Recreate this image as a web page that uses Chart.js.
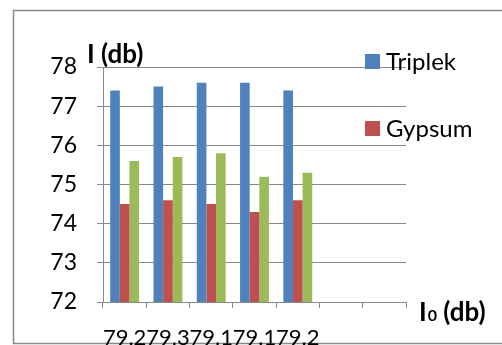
<!DOCTYPE html>
<html>
<head>
<meta charset="utf-8">
<script src="https://cdn.jsdelivr.net/npm/chart.js@4/dist/chart.umd.min.js"></script>
<style>
  html, body { margin: 0; padding: 0; background: #fff; overflow: hidden; }
  #wrap { width: 502px; height: 345px; overflow: hidden; position: relative; }
  canvas { display: block; }
</style>
</head>
<body>
<div id="wrap"><canvas id="c" width="502" height="360"></canvas></div>
<script>
// Sound level I (db) for each I0 (db) reading
const categories = ['79.2', '79.3', '79.1', '79.1', '79.2', '', ''];
const triplek = [77.4, 77.5, 77.6, 77.6, 77.4];
const gypsum = [74.5, 74.6, 74.5, 74.3, 74.6];
const third = [75.6, 75.7, 75.8, 75.2, 75.3];
const yTicks = { min: 72, max: 78, step: 1 };

const seriesNames = ['Triplek', 'Gypsum', ''];
const seriesColors = ['#4F81BD', '#C0504D', '#9BBB59'];

const FONT = 'Lato, "Open Sans", sans-serif';
const GRID = '#8a8a8a';

// Frame, axis titles and the legend box
const decorations = {
  id: 'decorations',
  beforeDraw(chart) {
    const ctx = chart.ctx;
    ctx.save();
    ctx.strokeStyle = GRID;
    ctx.lineWidth = 1.5;
    ctx.strokeRect(13.5, 10.5, 520, 333);
    ctx.restore();
  },
  afterDraw(chart) {
    const ctx = chart.ctx;
    const area = chart.chartArea;
    ctx.save();
    ctx.fillStyle = '#000';
    ctx.textBaseline = 'alphabetic';
    ctx.textAlign = 'left';
    // y title
    ctx.font = 'bold 26px ' + FONT;
    ctx.fillText('I (db)', area.left - 16, area.top - 4);
    // x title with subscript zero
    let x = area.right + 13;
    const yb = area.bottom + 19;
    ctx.fillText('I', x, yb);
    x += ctx.measureText('I').width + 1;
    ctx.font = 'bold 16px ' + FONT;
    ctx.fillText('0', x, yb);
    x += ctx.measureText('0').width;
    ctx.font = 'bold 26px ' + FONT;
    ctx.fillText(' (db)', x, yb);
    // legend entries (named series only)
    ctx.font = '24px ' + FONT;
    chart.data.datasets.forEach((ds, i) => {
      if (!ds.label) return;
      const ly = 54 + i * 67;
      ctx.fillStyle = ds.backgroundColor;
      ctx.fillRect(area.right - 41, ly, 15, 15);
      ctx.fillStyle = '#000';
      ctx.fillText(ds.label, area.right - 20, ly + 16);
    });
    ctx.restore();
  }
};

new Chart(document.getElementById('c'), {
  type: 'bar',
  data: {
    labels: categories,
    datasets: [triplek, gypsum, third].map((d, i) => ({
      label: seriesNames[i],
      data: d,
      backgroundColor: seriesColors[i],
      borderWidth: 0,
      categoryPercentage: 0.667,
      barPercentage: 1
    }))
  },
  options: {
    responsive: false,
    animation: false,
    layout: { padding: { top: 67, right: 96, left: 0, bottom: 0 } },
    plugins: { legend: { display: false }, tooltip: { enabled: false } },
    scales: {
      x: {
        afterFit(scale) { scale.height = 58; },
        grid: { drawOnChartArea: false, drawTicks: true, tickLength: 6, color: GRID, offset: true },
        border: { display: true, color: GRID, width: 1 },
        ticks: { font: { family: FONT, size: 22 }, color: '#000', padding: 17, maxRotation: 0, autoSkip: false }
      },
      y: {
        min: yTicks.min,
        max: yTicks.max,
        afterFit(scale) { scale.width = 103; },
        grid: { color: GRID, tickLength: 6, drawTicks: true },
        border: { display: true, color: GRID, width: 1 },
        ticks: { stepSize: yTicks.step, font: { family: FONT, size: 23 }, color: '#000', padding: 20 }
      }
    }
  },
  plugins: [decorations]
});
</script>
</body>
</html>
